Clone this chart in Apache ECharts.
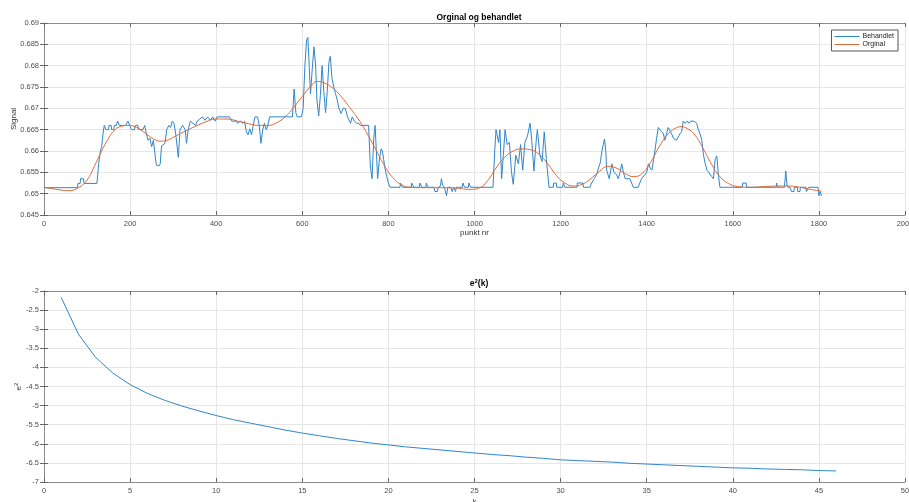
<!DOCTYPE html>
<html>
<head>
<meta charset="utf-8">
<script src="https://cdn.jsdelivr.net/npm/echarts@6/dist/echarts.min.js"></script>
<style>
  html, body { margin: 0; padding: 0; background: #fff; }
  #main { width: 909px; height: 502px; }
</style>
</head>
<body>
<div id="main"></div>
<script>
// top plot: "Behandlet" (processed)
const behandletX = [0,78,79,84,85,92,93,123,127,131,134,137,140,143,144,150,151,156,157,162,163,168,171,175,190,195,199,203,210,212,218,220,230,234,238,242,246,250,254,258,261,264,267,270,273,277,281,285,290,294,298,302,306,312,316,322,328,331,335,340,346,352,356,362,368,374,380,386,392,398,402,431,436,446,450,456,462,466,470,474,478,482,486,490,496,500,504,508,512,516,520,524,577,581,585,588,598,602,606,610,613,616,619,623,627,631,634,638,642,646,650,654,658,662,665,669,673,677,681,685,690,695,700,705,712,716,721,726,731,735,754,758,762,766,769,772,775,779,783,786,789,792,796,800,804,827,828,832,833,853,854,858,859,872,873,877,878,887,888,891,892,906,908,914,916,921,923,926,930,935,938,945,948,952,956,958,972,973,976,977,986,987,990,991,1043,1047,1050,1053,1056,1059,1063,1067,1071,1076,1081,1086,1090,1096,1102,1107,1112,1117,1123,1129,1133,1138,1143,1146,1152,1157,1162,1167,1173,1183,1184,1190,1191,1205,1206,1209,1210,1238,1239,1252,1253,1268,1272,1278,1284,1288,1292,1296,1299,1302,1305,1307,1313,1319,1324,1330,1334,1338,1342,1346,1350,1361,1365,1369,1380,1384,1388,1396,1400,1404,1408,1412,1416,1419,1423,1427,1431,1435,1439,1442,1446,1450,1454,1458,1462,1465,1469,1473,1477,1481,1485,1489,1494,1498,1502,1510,1516,1520,1524,1528,1532,1536,1540,1544,1547,1551,1555,1559,1563,1566,1570,1622,1623,1631,1632,1701,1702,1703,1720,1723,1726,1728,1733,1736,1742,1743,1750,1751,1756,1757,1770,1771,1775,1776,1798,1800,1803,1806];
const behandletY = [0.6514,0.6514,0.6524,0.6524,0.6535,0.6535,0.6524,0.6524,0.6570,0.6600,0.6610,0.6640,0.6660,0.6660,0.6650,0.6650,0.6660,0.6660,0.6650,0.6650,0.6660,0.6660,0.6670,0.6660,0.6660,0.6670,0.6660,0.6650,0.6650,0.6660,0.6660,0.6650,0.6650,0.6660,0.6640,0.6625,0.6630,0.6610,0.6625,0.6590,0.6567,0.6570,0.6565,0.6570,0.6612,0.6610,0.6618,0.6650,0.6660,0.6655,0.6670,0.6665,0.6640,0.6585,0.6650,0.6660,0.6650,0.6618,0.6650,0.6670,0.6665,0.6660,0.6670,0.6675,0.6680,0.6672,0.6680,0.6672,0.6680,0.6670,0.6680,0.6680,0.6670,0.6670,0.6665,0.6670,0.6665,0.6670,0.6645,0.6638,0.6652,0.6638,0.6660,0.6680,0.6680,0.6660,0.6618,0.6650,0.6665,0.6650,0.6660,0.6680,0.6680,0.6745,0.6690,0.6680,0.6680,0.6700,0.6800,0.6860,0.6866,0.6800,0.6734,0.6790,0.6844,0.6800,0.6720,0.6682,0.6730,0.6800,0.6740,0.6690,0.6740,0.6810,0.6822,0.6770,0.6750,0.6735,0.6720,0.6700,0.6688,0.6700,0.6700,0.6680,0.6665,0.6680,0.6670,0.6665,0.6665,0.6660,0.6660,0.6565,0.6535,0.6630,0.6660,0.6600,0.6535,0.6580,0.6605,0.6600,0.6580,0.6560,0.6540,0.6525,0.6515,0.6515,0.6525,0.6525,0.6515,0.6515,0.6525,0.6525,0.6515,0.6515,0.6525,0.6525,0.6515,0.6515,0.6525,0.6525,0.6515,0.6515,0.6505,0.6505,0.6515,0.6518,0.6535,0.6520,0.6515,0.6495,0.6515,0.6515,0.6505,0.6515,0.6505,0.6515,0.6515,0.6525,0.6525,0.6515,0.6515,0.6525,0.6525,0.6515,0.6515,0.6600,0.6650,0.6650,0.6620,0.6650,0.6535,0.6590,0.6650,0.6615,0.6620,0.6550,0.6522,0.6590,0.6570,0.6615,0.6555,0.6620,0.6635,0.6665,0.6625,0.6553,0.6620,0.6650,0.6590,0.6575,0.6645,0.6580,0.6515,0.6515,0.6525,0.6525,0.6515,0.6515,0.6525,0.6525,0.6515,0.6515,0.6525,0.6525,0.6515,0.6515,0.6525,0.6535,0.6545,0.6560,0.6572,0.6600,0.6615,0.6628,0.6600,0.6555,0.6535,0.6570,0.6550,0.6545,0.6535,0.6550,0.6570,0.6550,0.6535,0.6535,0.6525,0.6515,0.6515,0.6525,0.6535,0.6545,0.6550,0.6570,0.6560,0.6555,0.6580,0.6600,0.6630,0.6655,0.6655,0.6645,0.6640,0.6625,0.6640,0.6655,0.6655,0.6640,0.6630,0.6630,0.6625,0.6625,0.6640,0.6645,0.6670,0.6665,0.6670,0.6665,0.6670,0.6670,0.6665,0.6650,0.6640,0.6625,0.6590,0.6570,0.6555,0.6550,0.6550,0.6540,0.6535,0.6580,0.6588,0.6550,0.6515,0.6515,0.6525,0.6525,0.6515,0.6515,0.6525,0.6515,0.6515,0.6553,0.6520,0.6515,0.6515,0.6505,0.6505,0.6515,0.6515,0.6505,0.6505,0.6515,0.6515,0.6505,0.6505,0.6515,0.6515,0.6495,0.6505,0.6495];

// top plot: "Orginal" (smooth curve)
const orginalX = [0,30,55,80,100,115,130,150,165,180,195,215,235,255,270,285,300,325,350,375,400,425,450,475,500,520,540,560,580,600,620,635,650,670,690,710,730,750,770,790,810,830,850,880,920,960,990,1010,1030,1050,1070,1090,1110,1130,1150,1170,1190,1210,1230,1250,1270,1290,1310,1330,1350,1370,1390,1410,1430,1450,1470,1480,1495,1510,1530,1550,1570,1590,1610,1640,1680,1720,1750,1780,1806];
const orginalY = [0.6515,0.6510,0.6507,0.6514,0.6532,0.6560,0.6592,0.6630,0.6650,0.6658,0.6660,0.6655,0.6642,0.6628,0.6623,0.6625,0.6632,0.6645,0.6657,0.6668,0.6675,0.6675,0.6670,0.6664,0.6660,0.6660,0.6666,0.6680,0.6702,0.6728,0.6752,0.6763,0.6760,0.6748,0.6728,0.6702,0.6675,0.6642,0.6605,0.6567,0.6538,0.6521,0.6515,0.6514,0.6514,0.6513,0.6510,0.6513,0.6530,0.6560,0.6585,0.6600,0.6605,0.6603,0.6592,0.6570,0.6543,0.6525,0.6518,0.6522,0.6535,0.6552,0.6564,0.6560,0.6547,0.6540,0.6548,0.6575,0.6612,0.6640,0.6655,0.6657,0.6652,0.6640,0.6608,0.6570,0.6540,0.6524,0.6517,0.6515,0.6517,0.6518,0.6516,0.6510,0.6506];

// bottom plot: e^2(k)
const kValues = [1,2,3,4,5,6,7,8,9,10,11,12,13,14,15,16,17,18,19,20,21,22,23,24,25,26,27,28,29,30,31,32,33,34,35,36,37,38,39,40,41,42,43,44,45,46];
const e2Values = [-2.17,-3.13,-3.74,-4.15,-4.45,-4.68,-4.86,-5.01,-5.14,-5.26,-5.37,-5.46,-5.55,-5.64,-5.72,-5.79,-5.86,-5.92,-5.98,-6.03,-6.08,-6.12,-6.16,-6.20,-6.24,-6.28,-6.31,-6.35,-6.38,-6.42,-6.44,-6.46,-6.48,-6.51,-6.53,-6.55,-6.57,-6.59,-6.61,-6.63,-6.64,-6.66,-6.67,-6.68,-6.70,-6.71];

const zip = (xs, ys) => xs.map((x, i) => [x, ys[i]]);

const FONT = "Liberation Sans";
const boxColor = "#8c8c8c";
const labelColor = "#4d4d4d";
const gridColor = "#e6e6e6";
const blue = "#2f86cc";
const orange = "#e0683a";

function mainX(gridIndex, min, max, interval, name, gap) {
  return {
    type: "value", gridIndex, min, max, interval,
    name, nameLocation: "middle", nameGap: gap,
    nameTextStyle: { fontFamily: FONT, fontSize: 8, color: "#333" },
    axisLine: { show: true, lineStyle: { color: boxColor } },
    axisTick: { show: true, inside: true, length: 4, lineStyle: { color: "#666" } },
    axisLabel: { fontFamily: FONT, fontSize: 7.5, color: labelColor, margin: 5, formatter: (v) => String(v) },
    splitLine: { show: true, lineStyle: { color: gridColor } },
  };
}
function sideX(gridIndex, min, max, interval) {
  return {
    type: "value", gridIndex, min, max, interval, position: "top",
    axisLine: { show: true, lineStyle: { color: boxColor } },
    axisTick: { show: true, inside: true, length: 4, lineStyle: { color: "#666" } },
    axisLabel: { show: false }, splitLine: { show: false },
  };
}
function mainY(gridIndex, min, max, interval, name, gap) {
  return {
    type: "value", gridIndex, min, max, interval,
    name, nameLocation: "middle", nameGap: gap, nameMoveOverlap: false,
    nameTextStyle: {
      fontFamily: FONT, fontSize: 8, color: "#333",
      rich: { sup: { fontFamily: FONT, fontSize: 6, color: "#333", verticalAlign: "top", padding: [0, 0, 5, 0] } },
    },
    axisLine: { show: true, lineStyle: { color: boxColor } },
    axisTick: { show: true, inside: true, length: 4, lineStyle: { color: "#666" } },
    axisLabel: { fontFamily: FONT, fontSize: 7.5, color: labelColor, margin: 5, formatter: (v) => String(+v.toFixed(4)) },
    splitLine: { show: true, lineStyle: { color: gridColor } },
  };
}
function sideY(gridIndex, min, max, interval) {
  return {
    type: "value", gridIndex, min, max, interval, position: "right",
    axisLine: { show: true, lineStyle: { color: boxColor } },
    axisTick: { show: true, inside: true, length: 4, lineStyle: { color: "#666" } },
    axisLabel: { show: false }, splitLine: { show: false },
  };
}

const chart = echarts.init(document.getElementById("main"));
chart.setOption({
  animation: false,
  backgroundColor: "#fff",
  title: [
    {
      text: "Orginal og behandlet", left: 474, top: 8, textAlign: "center",
      textStyle: { fontFamily: FONT, fontSize: 8.5, fontWeight: "bold", color: "#000" },
    },
    {
      text: "e{sup|2}(k)", left: 474, top: 273, textAlign: "center",
      textStyle: {
        fontFamily: FONT, fontSize: 8.5, fontWeight: "bold", color: "#000",
        rich: { sup: { fontFamily: FONT, fontSize: 6, fontWeight: "bold", color: "#000", verticalAlign: "top", padding: [0, 0, 5, 0] } },
      },
    },
  ],
  legend: {
    data: ["Behandlet", "Orginal"],
    orient: "vertical", right: 11, top: 30,
    icon: "rect", itemWidth: 25, itemHeight: 1, itemGap: 1,
    padding: [3, 4, 3, 3],
    backgroundColor: "#fff", borderColor: "#555", borderWidth: 1,
    textStyle: { fontFamily: FONT, fontSize: 7, color: "#222", padding: [0, 0, 0, -2] },
  },
  grid: [
    { left: 44, right: 4, top: 23, height: 192, outerBoundsMode: "none" },
    { left: 44, right: 4, top: 291, height: 191, outerBoundsMode: "none" },
  ],
  xAxis: [
    mainX(0, 0, 2000, 200, "punkt nr", 13),
    sideX(0, 0, 2000, 200),
    mainX(1, 0, 50, 5, "k", 16),
    sideX(1, 0, 50, 5),
  ],
  yAxis: [
    mainY(0, 0.645, 0.69, 0.005, "Signal", 26),
    sideY(0, 0.645, 0.69, 0.005),
    mainY(1, -7, -2, 0.5, "e{sup|2}", 20),
    sideY(1, -7, -2, 0.5),
  ],
  series: [
    {
      name: "Behandlet", type: "line", xAxisIndex: 0, yAxisIndex: 0,
      symbol: "none", lineStyle: { color: blue, width: 1 }, itemStyle: { color: blue },
      data: zip(behandletX, behandletY),
    },
    {
      name: "Orginal", type: "line", xAxisIndex: 0, yAxisIndex: 0, smooth: true,
      symbol: "none", lineStyle: { color: orange, width: 1 }, itemStyle: { color: orange },
      data: zip(orginalX, orginalY),
    },
    {
      name: "e2", type: "line", xAxisIndex: 2, yAxisIndex: 2,
      symbol: "none", lineStyle: { color: blue, width: 1 },
      data: zip(kValues, e2Values),
    },
  ],
});
</script>
</body>
</html>
